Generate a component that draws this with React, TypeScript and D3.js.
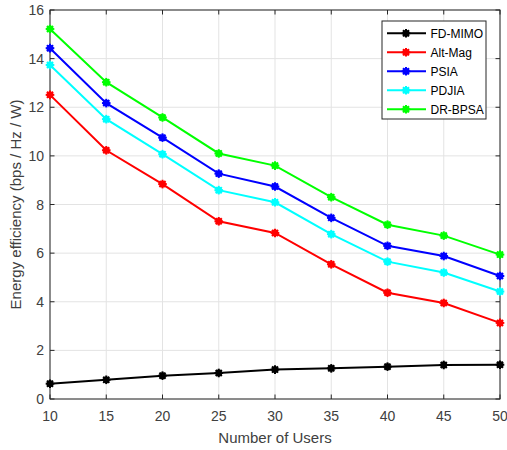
import React from "react";
import * as d3 from "d3";

const users = [10, 15, 20, 25, 30, 35, 40, 45, 50];
const fdMimo = [0.63, 0.79, 0.96, 1.07, 1.21, 1.26, 1.33, 1.4, 1.41];
const altMag = [12.51, 10.23, 8.84, 7.31, 6.83, 5.54, 4.37, 3.95, 3.13];
const psia = [14.43, 12.17, 10.75, 9.27, 8.74, 7.45, 6.3, 5.88, 5.06];
const pdjia = [13.74, 11.51, 10.07, 8.59, 8.09, 6.78, 5.65, 5.2, 4.42];
const drBpsa = [15.22, 13.03, 11.58, 10.1, 9.6, 8.3, 7.17, 6.72, 5.94];
const seriesNames = ["FD-MIMO", "Alt-Mag", "PSIA", "PDJIA", "DR-BPSA"];
const seriesColors = ["#000000", "#ff0000", "#0000ff", "#00ffff", "#00ff00"];
const xTicks = [10, 15, 20, 25, 30, 35, 40, 45, 50];
const yTicks = [0, 2, 4, 6, 8, 10, 12, 14, 16];

const allSeries = [fdMimo, altMag, psia, pdjia, drBpsa];

const W = 507, H = 450;
const L = 50, R = 500, T = 10, B = 399;
const FONT = "Liberation Sans, Arial, Helvetica, sans-serif";

function Marker({ x, y, color }: { x: number; y: number; color: string }) {
  const r = 4.3;
  const lines = [0, 45, 90, 135].map((a) => {
    const rad = (a * Math.PI) / 180;
    return (
      <line key={a} x1={x - r * Math.cos(rad)} y1={y - r * Math.sin(rad)} x2={x + r * Math.cos(rad)} y2={y + r * Math.sin(rad)} stroke={color} strokeWidth={2} />
    );
  });
  return (
    <g>
      <circle cx={x} cy={y} r={3.4} fill={color} />
      {lines}
    </g>
  );
}

export default function App() {
  const x = d3.scaleLinear().domain([10, 50]).range([L, R]);
  const y = d3.scaleLinear().domain([0, 16]).range([B, T]);
  const line = d3.line<number>().x((_, i) => x(users[i])).y((d) => y(d));
  const textColor = "#404040";
  const gridColor = "#e3e3e3";

  return (
    <svg width={W} height={H} style={{ position: "absolute", left: 0, top: 0, background: "#fff" }}>
      <rect x={0} y={0} width={W} height={H} fill="#fff" />
      {xTicks.map((t) => (
        <line key={"gx" + t} x1={x(t)} x2={x(t)} y1={T} y2={B} stroke={gridColor} strokeWidth={1} />
      ))}
      {yTicks.map((t) => (
        <line key={"gy" + t} x1={L} x2={R} y1={y(t)} y2={y(t)} stroke={gridColor} strokeWidth={1} />
      ))}
      {xTicks.map((t) => (
        <g key={"tx" + t}>
          <line x1={x(t)} x2={x(t)} y1={B} y2={B - 4.5} stroke="#262626" />
          <line x1={x(t)} x2={x(t)} y1={T} y2={T + 4.5} stroke="#262626" />
          <text x={x(t)} y={421} textAnchor="middle" fontSize={14} fontFamily={FONT} fill={textColor}>{t}</text>
        </g>
      ))}
      {yTicks.map((t) => (
        <g key={"ty" + t}>
          <line x1={L} x2={L + 4.5} y1={y(t)} y2={y(t)} stroke="#262626" />
          <line x1={R} x2={R - 4.5} y1={y(t)} y2={y(t)} stroke="#262626" />
          <text x={L - 6} y={y(t) + 5} textAnchor="end" fontSize={14} fontFamily={FONT} fill={textColor}>{t}</text>
        </g>
      ))}
      <rect x={L} y={T} width={R - L} height={B - T} fill="none" stroke="#262626" strokeWidth={1} />
      {allSeries.map((s, si) => (
        <g key={"s" + si}>
          <path d={line(s) || ""} fill="none" stroke={seriesColors[si]} strokeWidth={2} />
          {s.map((v, i) => (
            <Marker key={i} x={x(users[i])} y={y(v)} color={seriesColors[si]} />
          ))}
        </g>
      ))}
      <rect x={382} y={21} width={104} height={98} fill="#fff" stroke="#262626" strokeWidth={1} />
      {seriesNames.map((n, i) => {
        const ly = 33.3 + i * 19;
        return (
          <g key={"l" + n}>
            <line x1={387} x2={426} y1={ly} y2={ly} stroke={seriesColors[i]} strokeWidth={2} />
            <Marker x={406} y={ly} color={seriesColors[i]} />
            <text x={430.5} y={ly + 4.3} fontSize={12} fontFamily={FONT} fill="#000">{n}</text>
          </g>
        );
      })}
      <text x={(L + R) / 2} y={443} textAnchor="middle" fontSize={15} fontFamily={FONT} fill={textColor}>Number of Users</text>
      <text transform={`translate(21, ${(T + B) / 2}) rotate(-90)`} textAnchor="middle" fontSize={15} fontFamily={FONT} fill={textColor}>Energy efficiency (bps / Hz / W)</text>
    </svg>
  );
}
